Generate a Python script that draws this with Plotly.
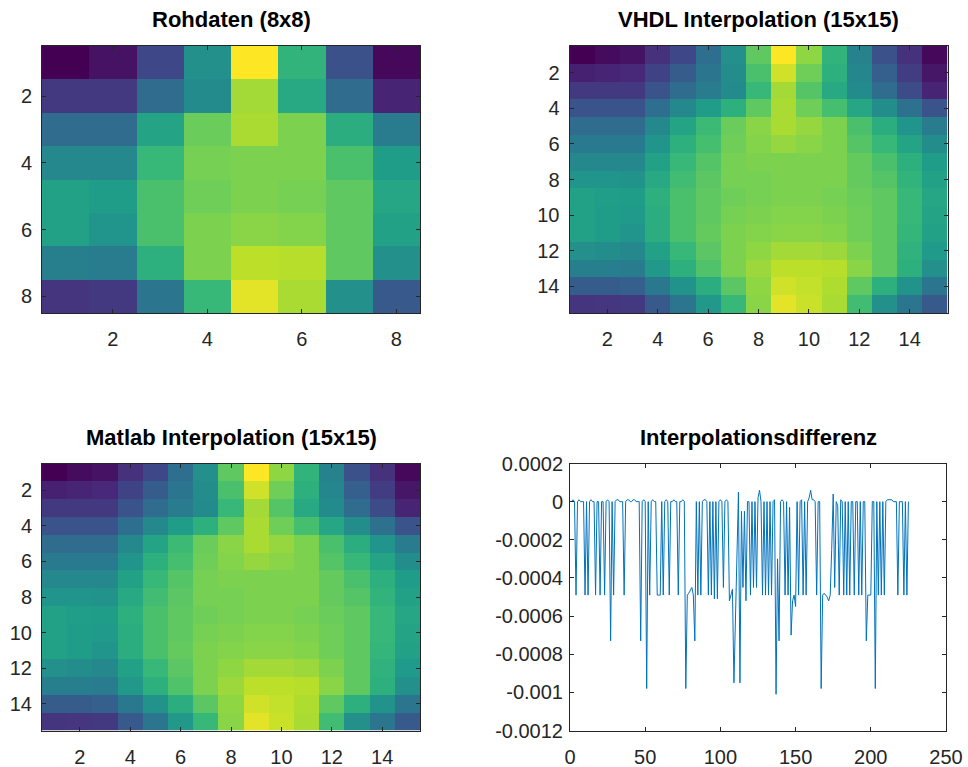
import plotly.graph_objects as go

# ---------------- data ----------------
raw_8x8 = [
    [0.00, 0.05, 0.22, 0.50, 1.00, 0.65, 0.25, 0.02],
    [0.17, 0.17, 0.35, 0.48, 0.86, 0.60, 0.35, 0.10],
    [0.35, 0.35, 0.58, 0.77, 0.87, 0.80, 0.62, 0.42],
    [0.47, 0.47, 0.67, 0.79, 0.80, 0.80, 0.71, 0.55],
    [0.57, 0.55, 0.71, 0.78, 0.80, 0.79, 0.75, 0.59],
    [0.57, 0.52, 0.71, 0.80, 0.82, 0.81, 0.75, 0.57],
    [0.43, 0.42, 0.63, 0.80, 0.90, 0.89, 0.75, 0.50],
    [0.15, 0.17, 0.39, 0.67, 0.96, 0.87, 0.50, 0.28],
]

vhdl_15x15 = [
    [0.00, 0.03, 0.05, 0.14, 0.22, 0.36, 0.50, 0.75, 1.00, 0.83, 0.65, 0.45, 0.25, 0.14, 0.02],
    [0.09, 0.10, 0.11, 0.20, 0.29, 0.39, 0.49, 0.71, 0.93, 0.78, 0.63, 0.46, 0.30, 0.18, 0.06],
    [0.17, 0.17, 0.17, 0.26, 0.35, 0.42, 0.48, 0.67, 0.86, 0.73, 0.60, 0.48, 0.35, 0.23, 0.10],
    [0.26, 0.26, 0.26, 0.36, 0.47, 0.55, 0.63, 0.75, 0.87, 0.78, 0.70, 0.59, 0.49, 0.37, 0.26],
    [0.35, 0.35, 0.35, 0.47, 0.58, 0.68, 0.77, 0.82, 0.87, 0.84, 0.80, 0.71, 0.62, 0.52, 0.42],
    [0.41, 0.41, 0.41, 0.52, 0.63, 0.70, 0.78, 0.81, 0.84, 0.82, 0.80, 0.73, 0.67, 0.58, 0.49],
    [0.47, 0.47, 0.47, 0.57, 0.67, 0.73, 0.79, 0.80, 0.80, 0.80, 0.80, 0.76, 0.71, 0.63, 0.55],
    [0.52, 0.52, 0.51, 0.60, 0.69, 0.74, 0.79, 0.79, 0.80, 0.80, 0.80, 0.76, 0.73, 0.65, 0.57],
    [0.57, 0.56, 0.55, 0.63, 0.71, 0.75, 0.78, 0.79, 0.80, 0.80, 0.79, 0.77, 0.75, 0.67, 0.59],
    [0.57, 0.55, 0.54, 0.62, 0.71, 0.75, 0.79, 0.80, 0.81, 0.81, 0.80, 0.78, 0.75, 0.67, 0.58],
    [0.57, 0.55, 0.52, 0.62, 0.71, 0.76, 0.80, 0.81, 0.82, 0.82, 0.81, 0.78, 0.75, 0.66, 0.57],
    [0.50, 0.49, 0.47, 0.57, 0.67, 0.74, 0.80, 0.83, 0.86, 0.86, 0.85, 0.80, 0.75, 0.64, 0.54],
    [0.43, 0.43, 0.42, 0.53, 0.63, 0.72, 0.80, 0.85, 0.90, 0.90, 0.89, 0.82, 0.75, 0.63, 0.50],
    [0.29, 0.29, 0.30, 0.40, 0.51, 0.62, 0.74, 0.83, 0.93, 0.91, 0.88, 0.75, 0.63, 0.51, 0.39],
    [0.15, 0.16, 0.17, 0.28, 0.39, 0.53, 0.67, 0.82, 0.96, 0.92, 0.87, 0.69, 0.50, 0.39, 0.28],
]

matlab_15x15 = [
    [0.00, 0.03, 0.05, 0.14, 0.22, 0.36, 0.50, 0.75, 1.00, 0.83, 0.65, 0.45, 0.25, 0.14, 0.02],
    [0.09, 0.10, 0.11, 0.20, 0.29, 0.39, 0.49, 0.71, 0.93, 0.78, 0.63, 0.46, 0.30, 0.18, 0.06],
    [0.17, 0.17, 0.17, 0.26, 0.35, 0.42, 0.48, 0.67, 0.86, 0.73, 0.60, 0.48, 0.35, 0.23, 0.10],
    [0.26, 0.26, 0.26, 0.36, 0.47, 0.55, 0.63, 0.75, 0.87, 0.78, 0.70, 0.59, 0.49, 0.37, 0.26],
    [0.35, 0.35, 0.35, 0.47, 0.58, 0.68, 0.77, 0.82, 0.87, 0.84, 0.80, 0.71, 0.62, 0.52, 0.42],
    [0.41, 0.41, 0.41, 0.52, 0.63, 0.70, 0.78, 0.81, 0.84, 0.82, 0.80, 0.73, 0.67, 0.58, 0.49],
    [0.47, 0.47, 0.47, 0.57, 0.67, 0.73, 0.79, 0.80, 0.80, 0.80, 0.80, 0.76, 0.71, 0.63, 0.55],
    [0.52, 0.52, 0.51, 0.60, 0.69, 0.74, 0.79, 0.79, 0.80, 0.80, 0.80, 0.76, 0.73, 0.65, 0.57],
    [0.57, 0.56, 0.55, 0.63, 0.71, 0.75, 0.78, 0.79, 0.80, 0.80, 0.79, 0.77, 0.75, 0.67, 0.59],
    [0.57, 0.55, 0.54, 0.62, 0.71, 0.75, 0.79, 0.80, 0.81, 0.81, 0.80, 0.78, 0.75, 0.67, 0.58],
    [0.57, 0.55, 0.52, 0.62, 0.71, 0.76, 0.80, 0.81, 0.82, 0.82, 0.81, 0.78, 0.75, 0.66, 0.57],
    [0.50, 0.49, 0.47, 0.57, 0.67, 0.74, 0.80, 0.83, 0.86, 0.86, 0.85, 0.80, 0.75, 0.64, 0.54],
    [0.43, 0.43, 0.42, 0.53, 0.63, 0.72, 0.80, 0.85, 0.90, 0.90, 0.89, 0.82, 0.75, 0.63, 0.50],
    [0.29, 0.29, 0.30, 0.40, 0.51, 0.62, 0.74, 0.83, 0.93, 0.91, 0.88, 0.75, 0.63, 0.51, 0.39],
    [0.15, 0.16, 0.17, 0.28, 0.39, 0.53, 0.67, 0.82, 0.96, 0.92, 0.87, 0.69, 0.50, 0.39, 0.28],
]

diff_values = [
    0, 0.00001, 0, -0.00049, 0, 0.00001, 0, 0, 0, -0.00049, 0, -0.00049, 0, 0.00001, 0,
    0, -0.00049, 0, 0, -0.00049, 0, 0, -0.00049, 0, 0.00001, 0, -0.00073, 0, -0.00049, 0,
    0.00001, 0.00001, 0, 0, 0, -0.00049, 0, 0.00001, 0.00001, 0, 0, 0.00001, 0.00001, 0, 0,
    0, -0.00073, 0, 0.00001, 0, -0.00098, 0, -0.00049, 0, 0.00001, 0, 0, -0.00049, -0.00049, -0.00049,
    0, -0.00049, 0, 0.00001, 0, -0.00049, 0, 0, 0.00001, 0, 0, -0.00049, 0, 0, 0.00001,
    0, -0.00098, -0.00049, -0.00048, -0.00046, -0.00045, -0.00049, -0.00073, 0, -0.00049, 0, -0.00049, 0, 0.00001, 0.00001,
    0, -0.00049, 0, -0.00049, 0, -0.00051, 0, -0.00051, 0, 0.00001, 0, -0.00045, 0, 0.00001, 0,
    -0.00052, -0.00048, -0.00046, -0.00095, -0.00060, -0.00025, 0.00005, -0.00095, -0.00005, -0.00045, -0.00005, -0.00052, 0, 0, -0.00049,
    0, -0.00045, 0, -0.00045, 0.00002, 0.00006, 0, -0.00049, 0, -0.00049, 0, -0.00049, 0, -0.00049, 0,
    0.00001, -0.00101, -0.00030, -0.00073, 0, 0.00001, 0, -0.00049, 0, -0.00049, -0.00003, -0.00070, -0.00052, -0.00049, -0.00055,
    0, -0.00049, 0, 0.00001, -0.00049, 0, -0.00049, 0, 0.00002, 0.00006, 0.00001, 0.00001, 0, -0.00049, 0,
    0, -0.00098, -0.00049, -0.00048, -0.00049, -0.00050, -0.00052, -0.00049, -0.00025, 0.00004, -0.00045, 0, -0.00002, -0.00049, 0.00001,
    0, -0.00049, 0, -0.00049, 0, -0.00049, 0, 0, -0.00049, 0, 0, -0.00049, 0, -0.00049, 0,
    0, -0.00073, -0.00049, -0.00049, -0.00049, 0, 0, -0.00098, 0, -0.00049, 0, -0.00049, 0, -0.00049, 0,
    0.00001, 0.00001, 0.00001, 0.00001, 0, 0, 0, -0.00049, 0, 0, 0, -0.00049, 0, -0.00049, 0,
]

titles = ["Rohdaten (8x8)", "VHDL Interpolation (15x15)",
          "Matlab Interpolation (15x15)", "Interpolationsdifferenz"]
ticks_8 = [2, 4, 6, 8]
ticks_15 = [2, 4, 6, 8, 10, 12, 14]
diff_xticks = [0, 50, 100, 150, 200, 250]
diff_yticks = [0.0002, 0, -0.0002, -0.0004, -0.0006, -0.0008, -0.001, -0.0012]
diff_yticktext = ["0.0002", "0", "-0.0002", "-0.0004", "-0.0006", "-0.0008", "-0.001", "-0.0012"]

# ---------------- figure ----------------
W, H = 968, 767
FONT = "Liberation Sans, Arial, Helvetica, sans-serif"
AX = "#262626"

def px_x(a, b):
    return [a / W, b / W]

def px_y(top, bottom):
    return [1 - bottom / H, 1 - top / H]

dom = {
    1: (px_x(42, 420), px_y(46, 313)),
    2: (px_x(569.5, 947.5), px_y(46, 313)),
    3: (px_x(42, 420), px_y(463.5, 730.5)),
    4: (px_x(570, 946), px_y(463.5, 730.5)),
}

fig = go.Figure()

def add_heat(idx, z):
    n = len(z)
    fig.add_trace(go.Heatmap(
        z=z, x=list(range(1, n + 1)), y=list(range(1, n + 1)),
        colorscale="Viridis", showscale=False,
        xaxis="x" + ("" if idx == 1 else str(idx)),
        yaxis="y" + ("" if idx == 1 else str(idx)),
        hoverinfo="skip",
    ))

add_heat(1, raw_8x8)
add_heat(2, vhdl_15x15)
add_heat(3, matlab_15x15)

fig.add_trace(go.Scatter(
    x=list(range(1, len(diff_values) + 1)), y=diff_values,
    mode="lines", line=dict(color="#0072BD", width=1),
    xaxis="x4", yaxis="y4", hoverinfo="skip",
))

common = dict(
    ticks="inside", ticklen=4, tickcolor=AX, tickwidth=1,
    showline=True, mirror="ticks", linecolor=AX, linewidth=1,
    showgrid=False, zeroline=False, automargin=False,
    tickfont=dict(family=FONT, size=20, color=AX),
)

layout = dict(
    width=W, height=H, margin=dict(l=0, r=0, t=0, b=0, autoexpand=False),
    paper_bgcolor="white", plot_bgcolor="white", showlegend=False,
    font=dict(family=FONT, color=AX),
)

for idx in (1, 2, 3, 4):
    xs = "xaxis" + ("" if idx == 1 else str(idx))
    ys = "yaxis" + ("" if idx == 1 else str(idx))
    xa = "x" + ("" if idx == 1 else str(idx))
    ya = "y" + ("" if idx == 1 else str(idx))
    xd, yd = dom[idx]
    if idx == 1:
        n, tv = 8, ticks_8
    elif idx in (2, 3):
        n, tv = 15, ticks_15
    if idx < 4:
        layout[xs] = dict(common, domain=xd, anchor=ya, range=[0.5, n + 0.5],
                          tickmode="array", tickvals=tv, ticklabelstandoff=8)
        layout[ys] = dict(common, domain=yd, anchor=xa, range=[n + 0.5, 0.5],
                          tickmode="array", tickvals=tv, ticklabelstandoff=5)
    else:
        layout[xs] = dict(common, domain=xd, anchor=ya, range=[0, 250],
                          tickmode="array", tickvals=diff_xticks, ticklabelstandoff=8)
        layout[ys] = dict(common, domain=yd, anchor=xa, range=[-0.0012, 0.0002],
                          tickmode="array", tickvals=diff_yticks,
                          ticktext=diff_yticktext, ticklabelstandoff=2)

fig.update_layout(**layout)

title_pos = [(231, 20), (758.5, 20), (231, 437), (758, 437)]
for t, (cx, cy) in zip(titles, title_pos):
    fig.add_annotation(
        text="<b>" + t + "</b>", x=cx / W, y=1 - cy / H, xref="paper", yref="paper",
        xanchor="center", yanchor="middle", showarrow=False,
        font=dict(family=FONT, size=22, color="black"),
    )

fig.write_html("out.html")
